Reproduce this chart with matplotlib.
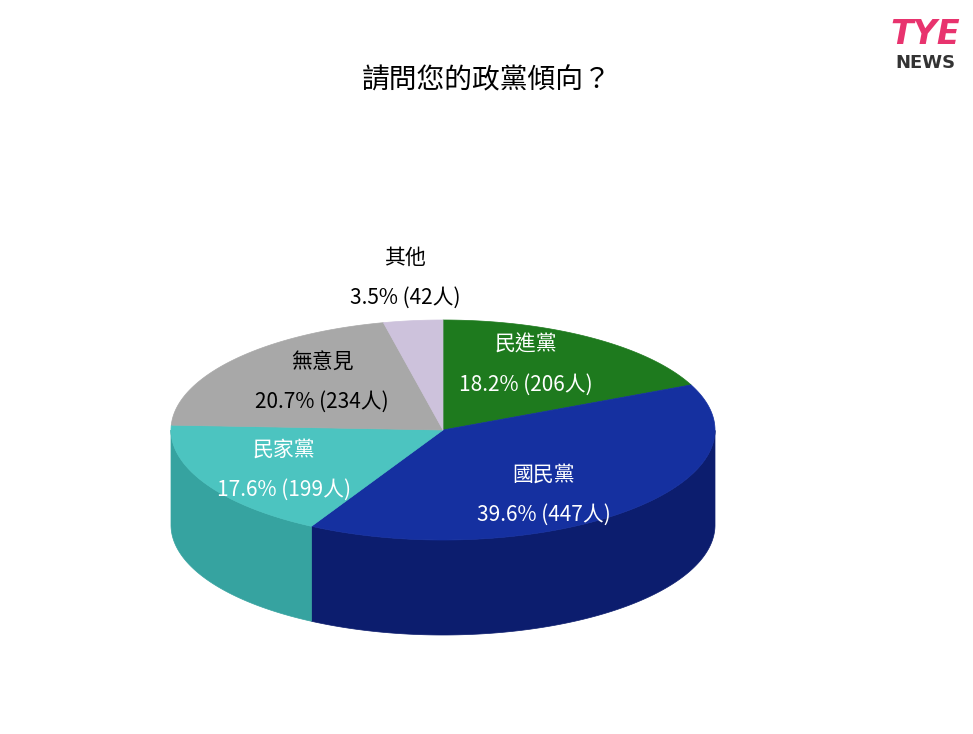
import numpy as np
import matplotlib.pyplot as plt
from matplotlib.patches import Polygon

plt.rcParams['font.family'] = 'Noto Sans CJK TC'

parties = ['民進黨', '國民黨', '民家黨', '無意見', '其他']
percents = [18.2, 39.6, 17.6, 20.7, 3.5]
counts = [206, 447, 199, 234, 42]
top_colors = ['#1e7a1e', '#1530a0', '#4cc4c0', '#a8a8a8', '#cdc2dc']
side_colors = ['#135a13', '#0c1d6e', '#36a3a0', '#8a8a8a', '#a99fb8']
label_colors = ['white', 'white', 'white', 'black', 'black']
label_pos = [(526, 345), (544, 475), (284, 450), (322, 362), (405, 258)]

cx, cy, rx, ry, depth = 443, 430, 272, 110, 95

fig = plt.figure(figsize=(9.73, 7.34), dpi=100)
ax = fig.add_axes([0, 0, 1, 1])
ax.set_xlim(0, 973)
ax.set_ylim(734, 0)
ax.axis('off')

def pt(t):
    return cx + rx * np.cos(t), cy - ry * np.sin(t)

cum = np.concatenate([[0], np.cumsum(percents)]) / sum(percents)
# side walls first
for i in range(len(parties)):
    a1 = np.radians(90 - cum[i] * 360)
    a2 = np.radians(90 - cum[i + 1] * 360)
    ts = np.linspace(a1, a2, 400)
    mask = np.sin(ts) <= 1e-9
    if not mask.any():
        continue
    idx = np.where(mask)[0]
    groups = np.split(idx, np.where(np.diff(idx) != 1)[0] + 1)
    for g in groups:
        xs, ys = pt(ts[g])
        verts = list(zip(xs, ys)) + list(zip(xs[::-1], ys[::-1] + depth))
        ax.add_patch(Polygon(verts, closed=True, fc=side_colors[i], ec=side_colors[i], lw=0.5))
# top faces
for i in range(len(parties)):
    a1 = np.radians(90 - cum[i] * 360)
    a2 = np.radians(90 - cum[i + 1] * 360)
    ts = np.linspace(a1, a2, 300)
    xs, ys = pt(ts)
    verts = [(cx, cy)] + list(zip(xs, ys))
    ax.add_patch(Polygon(verts, closed=True, fc=top_colors[i], ec=top_colors[i], lw=0.5))
    x, y = label_pos[i]
    ax.text(x, y, parties[i], ha='center', va='center', fontsize=15, color=label_colors[i])
    ax.text(x, y + 40, f'{percents[i]}% ({counts[i]}人)', ha='center', va='center',
            fontsize=15, color=label_colors[i])

ax.text(487, 80, '請問您的政黨傾向？', ha='center', va='center', fontsize=20, color='black')

# logo
ax.text(925, 35, 'TYE', ha='center', va='center', fontsize=24, fontweight='bold',
        fontstyle='italic', color='#e8336e', family='DejaVu Sans')
ax.text(925, 63, 'NEWS', ha='center', va='center', fontsize=13, fontweight='bold',
        color='#333333', family='DejaVu Sans')

fig.savefig('out.png', dpi=100, facecolor='white')
